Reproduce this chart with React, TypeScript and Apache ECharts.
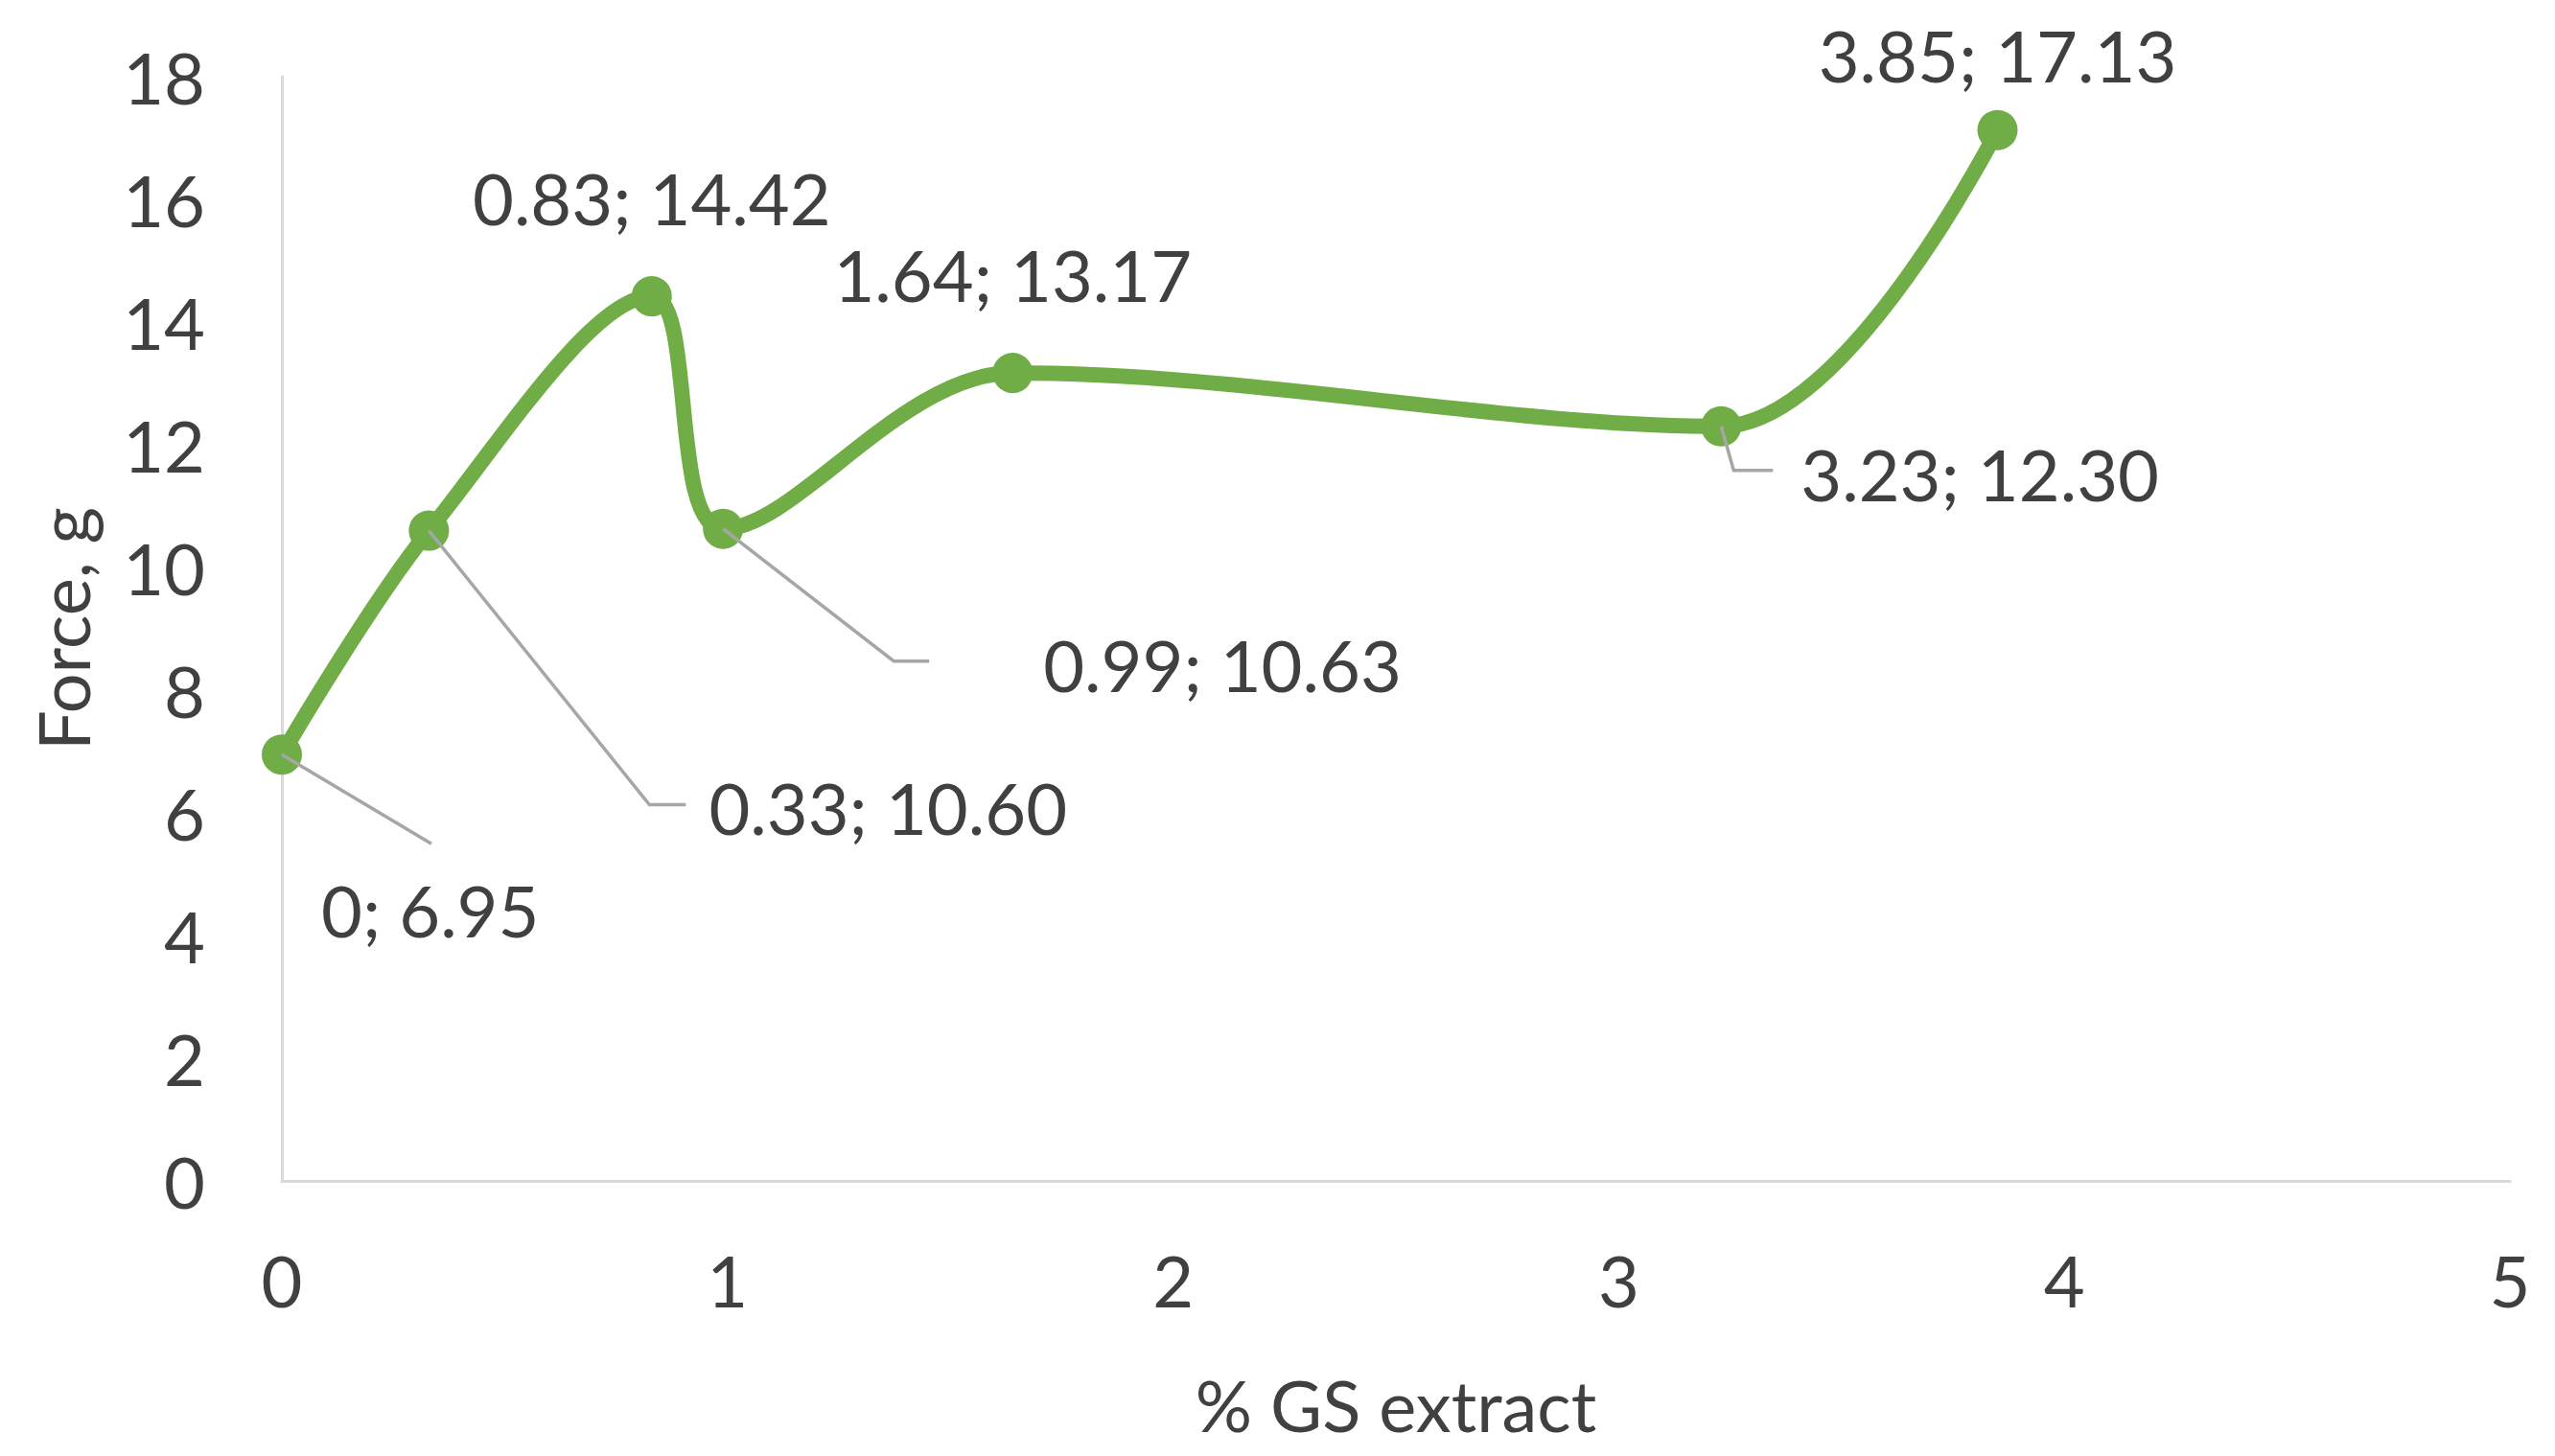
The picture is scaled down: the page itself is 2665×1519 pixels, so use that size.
import React, { useEffect, useRef } from "react";
import * as echarts from "echarts";

// ---- data ----
const xValues = [0, 0.33, 0.83, 0.99, 1.64, 3.23, 3.85];
const forceValues = [6.95, 10.6, 14.42, 10.63, 13.17, 12.3, 17.13];
const pointLabels = ["0; 6.95", "0.33; 10.60", "0.83; 14.42", "0.99; 10.63", "1.64; 13.17", "3.23; 12.30", "3.85; 17.13"];
const xTicks = [0, 1, 2, 3, 4, 5];
const yTicks = [0, 2, 4, 6, 8, 10, 12, 14, 16, 18];

// ---- styling (label placement relative to the point, px) ----
const labelAlign = ["left", "left", "center", "left", "center", "left", "center"];
const labelOffsets: number[][] = [[41, 162], [292, 289], [0, -103], [334, 142], [0, -103], [83, 50], [0, -78]];
// leader line bends (relative to point, px); null = no leader
const leaderPts: (number[][] | null)[] = [
  [[0, 0], [156, 93]],
  [[0, 0], [230, 286], [268, 286]],
  null,
  [[0, 0], [178, 138], [215, 138]],
  null,
  [[0, 0], [13, 46], [54, 46]],
  null,
];

const FONT = "Lato";
const TEXT = "#404040";
const GREEN = "#70AD47";

export default function App() {
  const ref = useRef<HTMLDivElement>(null);
  useEffect(() => {
    const chart = echarts.init(ref.current!, null, { renderer: "svg" });
    const data = xValues.map((x, i) => ({
      value: [x, forceValues[i]],
      label: {
        show: true,
        position: "inside",
        align: labelAlign[i],
        verticalAlign: "middle",
        offset: labelOffsets[i],
        formatter: pointLabels[i],
      },
    }));
    chart.setOption({
      animation: false,
      backgroundColor: "#ffffff",
      grid: { left: 294, right: 47, top: 80, bottom: 287 },
      xAxis: {
        type: "value",
        min: xTicks[0],
        max: xTicks[xTicks.length - 1],
        interval: 1,
        name: "% GS extract",
        nameLocation: "middle",
        nameGap: 233,
        nameTextStyle: { fontFamily: FONT, fontSize: 74, color: TEXT, verticalAlign: "middle" },
        axisLine: { show: true, lineStyle: { color: "#D9D9D9", width: 3 } },
        axisTick: { show: false },
        splitLine: { show: false },
        axisLabel: { fontFamily: FONT, fontSize: 74, color: TEXT, margin: 66 },
      },
      yAxis: {
        type: "value",
        min: yTicks[0],
        max: yTicks[yTicks.length - 1],
        interval: 2,
        name: "Force, g",
        nameLocation: "middle",
        nameGap: 229,
        nameRotate: 90,
        nameTextStyle: { fontFamily: FONT, fontSize: 74, color: TEXT, verticalAlign: "middle" },
        axisLine: { show: true, lineStyle: { color: "#D9D9D9", width: 3 } },
        axisTick: { show: false },
        splitLine: { show: false },
        axisLabel: { fontFamily: FONT, fontSize: 74, color: TEXT, margin: 80 },
      },
      series: [
        {
          type: "line",
          data,
          smooth: 0.35,
          symbol: "circle",
          symbolSize: 42,
          itemStyle: { color: GREEN },
          lineStyle: { color: GREEN, width: 16 },
          label: { fontFamily: FONT, fontSize: 74, color: TEXT },
          z: 3,
        },
      ],
    });
    const graphics: any[] = [];
    xValues.forEach((x, i) => {
      const lp = leaderPts[i];
      if (!lp) return;
      const p = chart.convertToPixel({ seriesIndex: 0 }, [x, forceValues[i]]) as number[];
      graphics.push({
        type: "polyline",
        z: 10,
        shape: { points: lp.map((d) => [p[0] + d[0], p[1] + d[1]]) },
        style: { stroke: "#A6A6A6", lineWidth: 3.5, fill: null },
      });
    });
    chart.setOption({ graphic: graphics });
    return () => chart.dispose();
  }, []);
  return <div ref={ref} style={{ position: "absolute", left: 0, top: 0, width: 2665, height: 1519 }} />;
}
